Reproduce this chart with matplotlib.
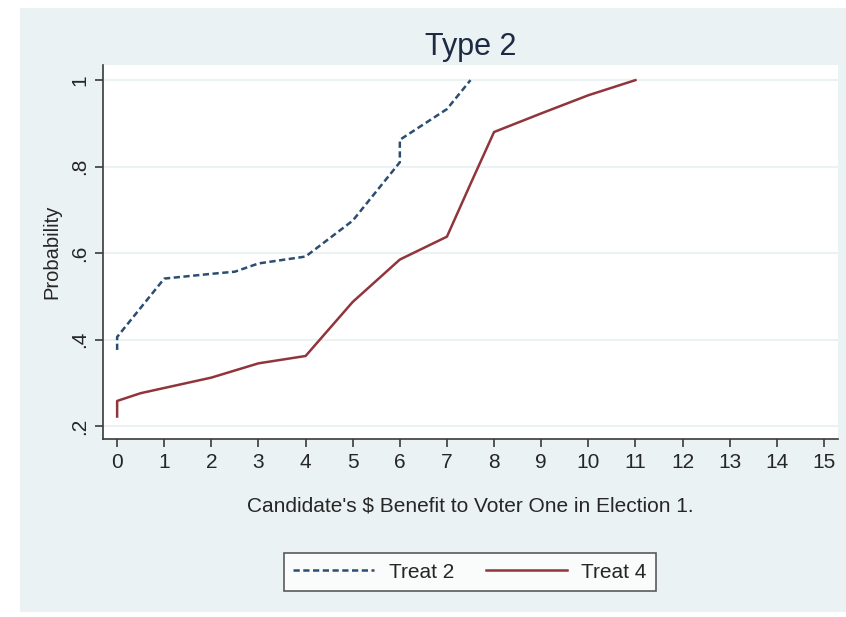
import matplotlib
matplotlib.use('Agg')
import matplotlib.pyplot as plt
from matplotlib.patches import Rectangle

# ---------- data ----------
treat2_x = [0, 0, 1, 2, 2.5, 3, 4, 5, 6, 6, 7, 7.5]
treat2_y = [0.376, 0.406, 0.541, 0.552, 0.557, 0.576, 0.592, 0.675, 0.81, 0.862, 0.933, 1.0]

treat4_x = [0, 0, 0.5, 2, 3, 4, 5, 6, 7, 7.5, 8, 9, 10, 11]
treat4_y = [0.222, 0.258, 0.276, 0.312, 0.345, 0.362, 0.487, 0.585, 0.638, 0.76, 0.88, 0.923, 0.965, 1.0]

x_ticks = list(range(0, 16))
y_ticks = [0.2, 0.4, 0.6, 0.8, 1.0]
y_tick_labels = ['.2', '.4', '.6', '.8', '1']

# ---------- style ----------
plt.rcParams['font.family'] = ['Liberation Sans', 'DejaVu Sans']
BG = '#EAF2F3'
NAVY = '#2C4D72'
MAROON = '#90353B'
TXT = '#262626'

W, H = 846, 617
fig = plt.figure(figsize=(W / 100, H / 100), dpi=100)
fig.patch.set_facecolor('white')
fig.patches.append(Rectangle((20 / W, 1 - 612 / H), (W - 20) / W, (612 - 8) / H,
                             transform=fig.transFigure, facecolor=BG,
                             edgecolor='none', zorder=-10))

ax = fig.add_axes([103 / W, 1 - 439 / H, (838 - 103) / W, (439 - 65) / H])
ax.set_facecolor('white')

ax.plot(treat2_x, treat2_y, color=NAVY, lw=1.8, dashes=(2.5, 1.4), label='Treat 2')
ax.plot(treat4_x, treat4_y, color=MAROON, lw=1.8, label='Treat 4')

ax.set_xlim(-0.3, 15.3)
ax.set_ylim(0.17, 1.035)
ax.set_xticks(x_ticks)
ax.set_xticklabels([str(t) for t in x_ticks])
ax.set_yticks(y_ticks)
ax.set_yticklabels(y_tick_labels, rotation=90, va='center')

ax.grid(axis='y', color=BG, lw=1.5)
ax.set_axisbelow(True)
for side in ['top', 'right']:
    ax.spines[side].set_visible(False)
for side in ['left', 'bottom']:
    ax.spines[side].set_color('#3a3a3a')
    ax.spines[side].set_linewidth(1.2)
ax.tick_params(axis='both', colors='#3a3a3a', length=6, width=1.2,
               labelsize=15, labelcolor=TXT, pad=4)

ax.set_title('Type 2', fontsize=22, color='#1C2A44', pad=7)
ax.set_xlabel("Candidate's $ Benefit to Voter One in Election 1.", fontsize=15,
              color=TXT, labelpad=18)
ax.set_ylabel('Probability', fontsize=14.5, color=TXT, labelpad=6)

leg = ax.legend(loc='center', bbox_to_anchor=(470 / W, 1 - 572 / H),
                bbox_transform=fig.transFigure, ncol=2, fontsize=15,
                frameon=True, fancybox=False, edgecolor='#333333',
                handlelength=3.9, handletextpad=0.7, columnspacing=1.5,
                borderpad=0.45)
leg.get_frame().set_linewidth(1.2)
for t in leg.get_texts():
    t.set_color(TXT)

fig.savefig('out.png', dpi=100, facecolor=fig.get_facecolor())
